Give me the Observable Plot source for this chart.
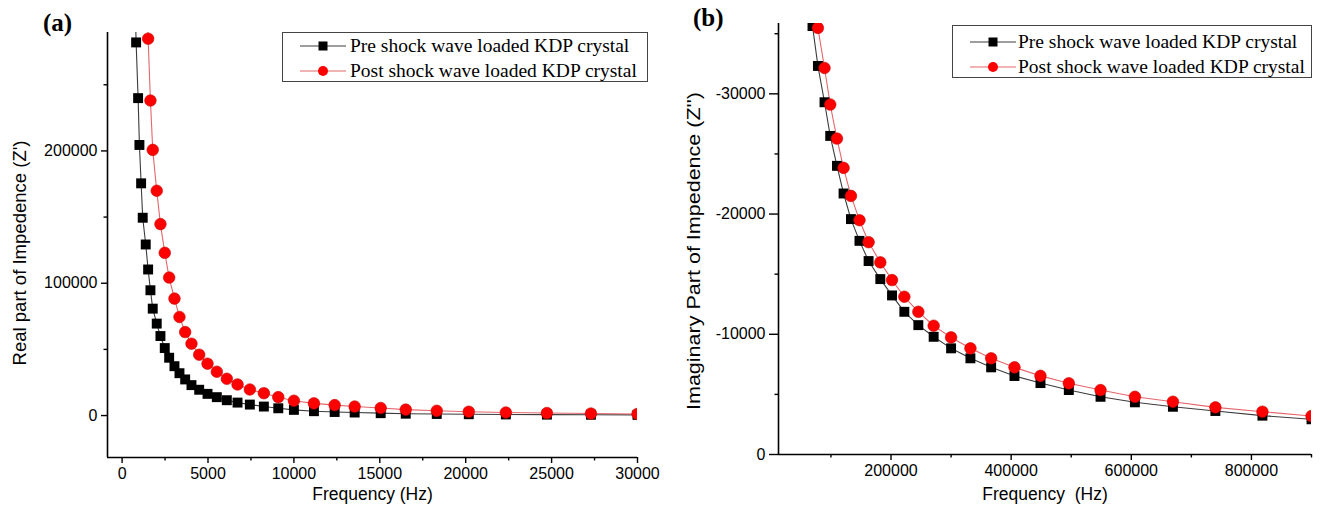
<!DOCTYPE html>
<html><head><meta charset="utf-8">
<script src="https://cdn.jsdelivr.net/npm/d3@7"></script>
<script src="https://cdn.jsdelivr.net/npm/@observablehq/plot@0.6"></script>
<style>
body{margin:0;background:#fff;}
#wrap{position:relative;width:1322px;height:522px;overflow:hidden;background:#fff;font-family:"Liberation Sans",Arial,sans-serif;}
.panel{position:absolute;top:0;}
.tag{position:absolute;font-family:"Liberation Serif","Times New Roman",serif;font-weight:bold;font-size:25px;line-height:1;}
.legend{position:absolute;border:1px solid #444;background:#fff;font-family:"Liberation Serif","Times New Roman",serif;font-size:19.5px;box-sizing:border-box;}
.row{position:absolute;left:0;display:flex;align-items:center;height:24px;white-space:nowrap;}
.row svg{display:block;}
</style>
</head><body>
<div id="wrap"></div>
<script>
// ---- Panel (a): real part of impedance ----
const freqA = [740, 816, 932, 1008, 1107, 1200, 1375, 1515, 1649, 1783, 2016, 2232, 2483, 2739, 3048, 3339, 3671, 4038, 4487, 4971, 5513, 6096, 6719, 7436, 8252, 9091, 10000, 11166, 12372, 13537, 15052, 16510, 18316, 20180, 22337, 24726, 27290, 30000];
const preReal = [320000, 282000, 239900, 204500, 175500, 149500, 129300, 110400, 94700, 80800, 69500, 60100, 51000, 43700, 37300, 32000, 27300, 23000, 19500, 16400, 13900, 11600, 9800, 8300, 6800, 5500, 4300, 3300, 2700, 2300, 1800, 1400, 1200, 1000, 850, 700, 600, 500];
const postReal = [null, null, null, null, null, null, 335000, 284800, 238100, 200800, 169900, 144700, 123000, 104300, 88400, 74500, 63100, 54300, 46000, 39200, 33100, 27800, 23500, 19700, 16900, 13900, 11200, 9200, 7900, 6800, 5700, 4500, 3600, 2900, 2300, 1900, 1500, 1200];
const xTicksA = [0, 5000, 10000, 15000, 20000, 25000, 30000];
const xMinorA = [2500, 7500, 12500, 17500, 22500, 27500];
const yTicksA = [0, 100000, 200000];
const yMinorA = [50000, 150000, 250000];

// ---- Panel (b): imaginary part of impedance ----
const freqB = [62700, 69300, 78300, 89300, 98800, 110000, 121000, 133300, 147500, 162700, 182200, 201700, 222200, 245500, 271000, 300000, 332200, 366700, 405500, 448800, 496000, 548800, 606000, 669300, 740000, 818300, 900000];
const preImag = [-40000, -35640, -32320, -29300, -26500, -24010, -21710, -19580, -17770, -16090, -14590, -13230, -11870, -10760, -9790, -8830, -8000, -7250, -6530, -5940, -5360, -4800, -4340, -3970, -3620, -3230, -2930];
const postImag = [null, -39500, -35480, -32150, -29110, -26280, -23840, -21510, -19490, -17660, -15980, -14510, -13120, -11870, -10710, -9740, -8830, -8000, -7250, -6540, -5920, -5360, -4800, -4390, -3920, -3560, -3200];
const xTicksB = [200000, 400000, 600000, 800000];
const xMinorB = [100000, 300000, 500000, 700000, 900000];
const yTicksB = [0, -10000, -20000, -30000];
const yMinorB = [-5000, -15000, -25000, -35000];

const seriesNames = ["Pre shock wave loaded KDP crystal", "Post shock wave loaded KDP crystal"];
const preColor = "#000000", preLine = "#3c3c3c";
const postColor = "#ff0000", postLine = "#e4676b";

function rows(freq, vals) {
  return freq.map((f, i) => ({f, v: vals[i]})).filter(d => d.v != null);
}

function panel(o) {
  const pre = rows(o.freq, o.pre), post = rows(o.freq, o.post);
  const fmt = d => String(d);
  const svg = Plot.plot({
    width: 661, height: 522,
    marginLeft: o.m[0], marginRight: o.m[1], marginTop: o.m[2], marginBottom: o.m[3],
    style: {fontFamily: '"Liberation Sans", Arial, sans-serif', fontSize: "16px", background: "transparent", color: "#000"},
    x: {domain: o.xDomain},
    y: {domain: o.yDomain},
    marks: [
      Plot.line(pre, {x: "f", y: "v", stroke: preLine, strokeWidth: 1.1, clip: true}),
      Plot.line(post, {x: "f", y: "v", stroke: postLine, strokeWidth: 1.1, clip: true}),
      Plot.dot(pre, {x: "f", y: "v", symbol: "square", r: 5.6, fill: preColor, clip: true}),
      Plot.dot(post, {x: "f", y: "v", symbol: "circle", r: 5.8, fill: postColor, stroke: "#c80000", strokeWidth: 0.6, clip: true}),
      Plot.ruleX([o.xDomain[0]], {stroke: "#000", strokeWidth: 1.6}),
      Plot.ruleY([o.yDomain[0]], {stroke: "#000", strokeWidth: 1.6}),
      Plot.axisX({ticks: o.xTicks, tickSize: 6, tickPadding: 4, tickFormat: fmt, fontSize: 16, strokeWidth: 1.4, label: null}),
      Plot.axisX({ticks: o.xMinor, tickSize: 3.5, tickFormat: () => "", strokeWidth: 1.4, label: null}),
      Plot.axisY({ticks: o.yTicks, tickSize: o.yTickSize, tickPadding: 4, tickFormat: fmt, fontSize: 16, strokeWidth: 1.4, label: null}),
      Plot.axisY({ticks: o.yMinor, tickSize: 3.5, tickFormat: () => "", strokeWidth: 1.4, label: null}),
      Plot.text([o.xLabel], {text: d => d, frameAnchor: "bottom", textAnchor: "middle", dy: o.xLabelDy, fontSize: 17.5}),
      Plot.text([o.yLabel], {text: d => d, frameAnchor: "left", textAnchor: "middle", dx: o.yLabelDx, dy: o.yLabelDy, rotate: -90, fontSize: 18})
    ]
  });
  // stretch the y-axis title to the length it has in the reference
  svg.querySelectorAll("text").forEach(t => {
    if (t.textContent === o.yLabel) {
      t.setAttribute("textLength", o.yLabelLen);
      t.setAttribute("lengthAdjust", "spacingAndGlyphs");
    }
  });
  return svg;
}

const wrap = document.getElementById("wrap");

const pa = panel({
  freq: freqA, pre: preReal, post: postReal,
  xDomain: [-850, 30000], yDomain: [-31700, 289500],
  xTicks: xTicksA, xMinor: xMinorA, yTicks: yTicksA, yMinor: yMinorA, yTickSize: 6,
  m: [107, 24, 32, 65],
  xLabel: "Frequency (Hz)", yLabel: "Real part of Impedence (Z')",
  xLabelDy: 42, yLabelDx: -87, yLabelDy: 8, yLabelLen: 225
});
pa.classList.add("panel"); pa.style.left = "0px";
wrap.appendChild(pa);

const pb = panel({
  freq: freqB, pre: preImag, post: postImag,
  xDomain: [12700, 900000], yDomain: [0, -35850],
  xTicks: xTicksB, xMinor: xMinorB, yTicks: yTicksB, yMinor: yMinorB, yTickSize: 9,
  m: [117, 11, 23, 68],
  xLabel: "Frequency\u00a0 (Hz)", yLabel: "Imaginary Part of Impedence (Z'')",
  xLabelDy: 45, yLabelDx: -84, yLabelDy: 12, yLabelLen: 318
});
pb.classList.add("panel"); pb.style.left = "661px";
wrap.appendChild(pb);

function tag(text, x, y) {
  const d = document.createElement("div");
  d.className = "tag"; d.textContent = text;
  d.style.left = x + "px"; d.style.top = y + "px";
  wrap.appendChild(d);
}
tag("(a)", 43, 10);
tag("(b)", 693, 5);

function sample(color, lineColor, symbol) {
  const ns = "http://www.w3.org/2000/svg";
  const s = document.createElementNS(ns, "svg");
  s.setAttribute("width", 46); s.setAttribute("height", 24);
  const l = document.createElementNS(ns, "line");
  l.setAttribute("x1", 0); l.setAttribute("x2", 46); l.setAttribute("y1", 12); l.setAttribute("y2", 12);
  l.setAttribute("stroke", lineColor); l.setAttribute("stroke-width", 1.2);
  s.appendChild(l);
  let m;
  if (symbol === "square") {
    m = document.createElementNS(ns, "rect");
    m.setAttribute("x", 18.5); m.setAttribute("y", 7.5); m.setAttribute("width", 9); m.setAttribute("height", 9);
  } else {
    m = document.createElementNS(ns, "circle");
    m.setAttribute("cx", 23); m.setAttribute("cy", 12); m.setAttribute("r", 5);
  }
  m.setAttribute("fill", color);
  s.appendChild(m);
  return s;
}

function legend(x, y, w, h, rowsY, sx, tx) {
  const box = document.createElement("div");
  box.className = "legend";
  Object.assign(box.style, {left: x + "px", top: y + "px", width: w + "px", height: h + "px"});
  const specs = [[preColor, preLine, "square"], [postColor, postLine, "circle"]];
  specs.forEach((sp, i) => {
    const r = document.createElement("div");
    r.className = "row";
    r.style.top = (rowsY[i] - 12) + "px";
    r.style.left = sx + "px";
    r.appendChild(sample(...sp));
    const t = document.createElement("span");
    t.textContent = seriesNames[i];
    t.style.marginLeft = (tx - 46) + "px";
    r.appendChild(t);
    box.appendChild(r);
  });
  wrap.appendChild(box);
}
legend(282, 32, 366, 50, [13, 38], 17, 50);
legend(952, 25, 360, 53, [16, 41], 17, 48);
</script>
</body></html>
